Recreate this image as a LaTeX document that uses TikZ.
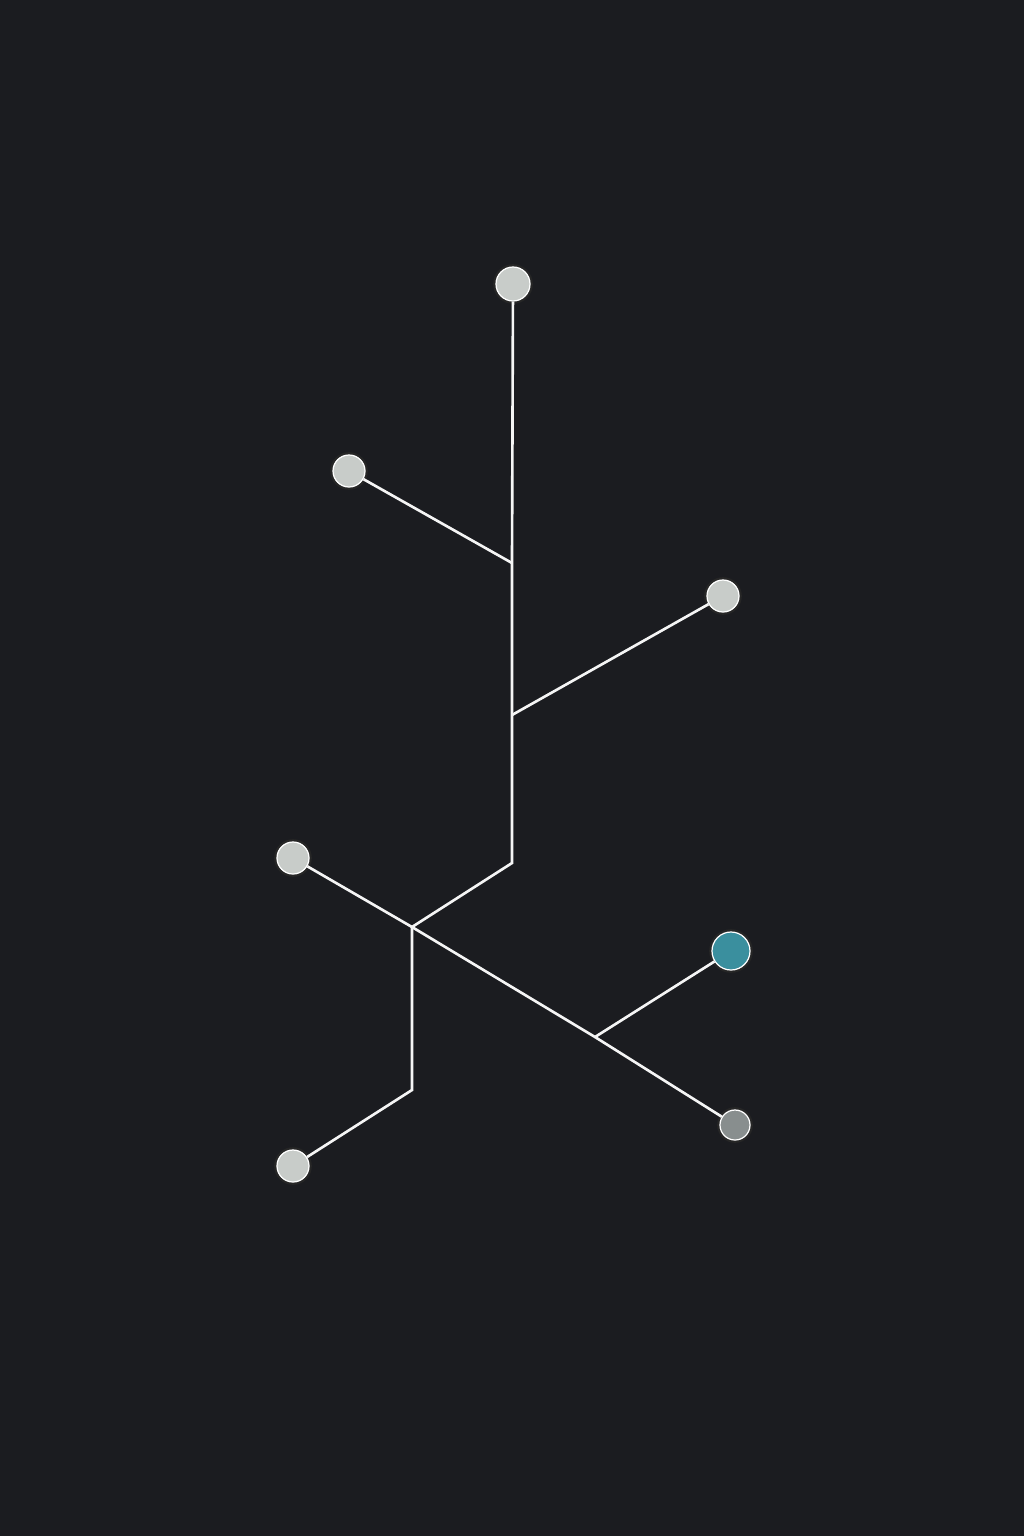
\documentclass[tikz,border=0pt]{standalone}
\definecolor{bgdark}{RGB}{27,28,32}
\definecolor{dotgrey}{RGB}{200,204,201}
\definecolor{dotteal}{RGB}{58,143,158}
\definecolor{dotdim}{RGB}{136,142,142}
\begin{document}
\begin{tikzpicture}[x=0.01cm, y=-0.01cm,
  dot/.style = {circle, fill=dotgrey, draw=white, line width=0.35pt,
    inner sep=0pt, minimum size=0.32cm,
    preaction={draw=black!85, line width=1.6pt}},
  link/.style = {draw=white!92!gray, line width=0.75pt, line join=miter}]
  \fill[bgdark] (0,0) rectangle (1024,1536);
  \useasboundingbox (0,0) rectangle (1024,1536);
  % dots
  \node[dot, minimum size=0.34cm] (top) at (513,284) {};
  \node[dot] (ul) at (349,471) {};
  \node[dot] (ur) at (723,596) {};
  \node[dot] (ml) at (293,858) {};
  \node[dot, fill=dotteal, minimum size=0.38cm] (teal) at (731,951) {};
  \node[dot, fill=dotdim, minimum size=0.30cm] (lr) at (735,1125) {};
  \node[dot] (bl) at (293,1166) {};
  % joints
  \coordinate (j1) at (512,563);
  \coordinate (j2) at (512,715);
  \coordinate (j3) at (512,863);
  \coordinate (x) at (412,927);
  \coordinate (j4) at (595,1037);
  \coordinate (j5) at (412,1090);
  \path[link] (top) -- (j1) -- (j2) -- (j3) -- (x) -- (j5) -- (bl);
  \path[link] (ul) -- (j1);
  \path[link] (j2) -- (ur);
  \path[link] (ml) -- (x) -- (j4) -- (lr);
  \path[link] (j4) -- (teal);
\end{tikzpicture}
\end{document}
